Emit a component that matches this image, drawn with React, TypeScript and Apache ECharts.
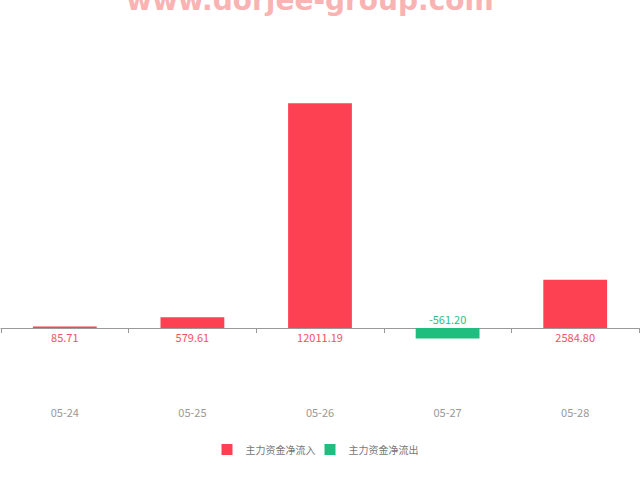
import React, { useEffect, useRef } from "react";
import * as echarts from "echarts";

const categories = ["05-24", "05-25", "05-26", "05-27", "05-28"];
const netFlow = [85.71, 579.61, 12011.19, -561.2, 2584.8];
const legendNames = ["主力资金净流入", "主力资金净流出"];
const RED = "#fd4152";
const GREEN = "#1fbd7e";
const RED_LABEL = "#f2525f";
const GREEN_LABEL = "#2bbf85";

export default function App() {
  const ref = useRef<HTMLDivElement>(null);
  useEffect(() => {
    const chart = echarts.init(ref.current!, null, { renderer: "svg" });
    const font = "'Noto Sans CJK SC', 'Noto Sans', sans-serif";
    chart.setOption({
      animation: false,
      textStyle: { fontFamily: font },
      graphic: [
        {
          type: "text",
          x: 310,
          y: -14,
          style: {
            text: "www.dorjee-group.com",
            fontSize: 28,
            fontWeight: "bold",
            fontFamily: "'DejaVu Sans', sans-serif",
            fill: "#f9b3b3",
            textAlign: "center",
            textVerticalAlign: "top",
          },
        },
      ],
      legend: {
        bottom: 20,
        left: "center",
        itemWidth: 11,
        itemHeight: 11,
        itemGap: 9,
        icon: "rect",
        textStyle: { color: "#777", fontSize: 10, padding: [0, 0, 0, 8] },
        data: [
          { name: legendNames[0], itemStyle: { color: RED } },
          { name: legendNames[1], itemStyle: { color: GREEN } },
        ],
      },
      grid: { left: 1, right: 1, top: 66, bottom: 114.5, containLabel: false },
      xAxis: {
        type: "category",
        data: categories,
        axisLine: { onZero: true, lineStyle: { color: "#999" } },
        axisTick: { show: true, lineStyle: { color: "#999" } },
        axisLabel: { margin: 41, color: "#999", fontSize: 11 },
      },
      yAxis: {
        type: "value",
        min: -2000,
        max: 14000,
        show: false,
        splitLine: { show: false },
      },
      series: [
        {
          name: legendNames[0],
          type: "bar",
          barWidth: "50%",
          barGap: "-100%",
          data: netFlow.map((v) =>
            v >= 0
              ? {
                  value: v,
                  itemStyle: { color: RED },
                  label: { show: true, position: "bottom", color: RED_LABEL },
                }
              : "-"
          ),
          label: { fontSize: 11, distance: 3, formatter: (p: any) => Number(p.value).toFixed(2) },
        },
        {
          name: legendNames[1],
          type: "bar",
          barWidth: "50%",
          data: netFlow.map((v) =>
            v < 0
              ? {
                  value: v,
                  itemStyle: { color: GREEN },
                  label: { show: true, position: "top", color: GREEN_LABEL },
                }
              : "-"
          ),
          label: { fontSize: 11, distance: 4, formatter: (p: any) => Number(p.value).toFixed(2) },
        },
      ],
    });
    return () => chart.dispose();
  }, []);
  return <div ref={ref} style={{ width: 640, height: 480, position: "absolute", left: 0, top: 0 }} />;
}
